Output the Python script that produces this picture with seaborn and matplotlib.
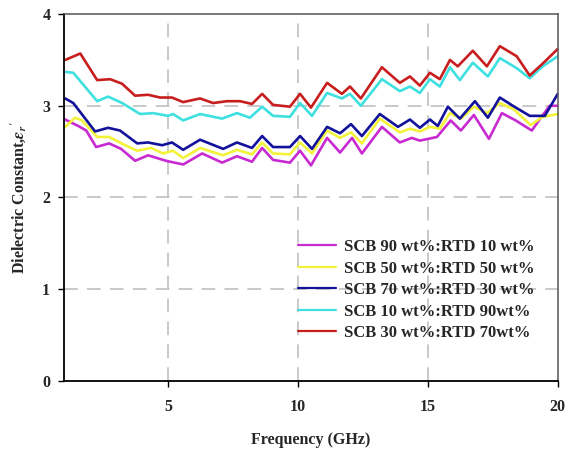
import numpy as np
import pandas as pd
import matplotlib
matplotlib.use("Agg")
import matplotlib.pyplot as plt
import seaborn as sns

# ---- data ----
labels = ["SCB 90 wt%:RTD 10 wt%", "SCB 50 wt%:RTD 50 wt%", "SCB 70 wt%:RTD 30 wt%",
          "SCB 10 wt%:RTD 90wt%", "SCB 30 wt%:RTD 70wt%"]
colors = ["#C82AD2", "#F2F23A", "#12129A", "#3EE0E0", "#C81E1E"]

x_mag = [1.04, 1.54, 1.85, 2.23, 2.73, 3.19, 3.73, 4.23, 4.92, 5.58, 6.31, 7.08, 7.65, 8.23, 8.62,
         9.04, 9.69, 10.08, 10.5, 11.12, 11.62, 12.08, 12.46, 13.23, 13.92, 14.38, 14.69, 15.35,
         15.88, 16.27, 16.77, 17.35, 17.85, 18.38, 19.0, 19.35, 19.69, 20.0]
y_mag = [2.85, 2.78, 2.73, 2.55, 2.59, 2.53, 2.40, 2.46, 2.40, 2.36, 2.48, 2.38, 2.45, 2.39, 2.54,
         2.41, 2.38, 2.51, 2.35, 2.65, 2.49, 2.65, 2.48, 2.77, 2.60, 2.65, 2.62, 2.66,
         2.84, 2.73, 2.90, 2.64, 2.92, 2.84, 2.73, 2.87, 3.00, 3.00]

x_yel = [1.04, 1.42, 1.69, 2.27, 2.73, 3.35, 3.81, 4.35, 4.81, 5.19, 5.58, 6.23, 7.12, 7.65, 8.23,
         8.62, 9.04, 9.69, 10.08, 10.54, 11.12, 11.62, 12.04, 12.46, 13.15, 13.92, 14.31, 14.69,
         15.08, 15.46, 15.85, 16.27, 16.77, 17.27, 17.77, 18.31, 18.96, 19.42, 20.0]
y_yel = [2.77, 2.87, 2.84, 2.66, 2.66, 2.57, 2.51, 2.54, 2.48, 2.51, 2.43, 2.54, 2.46, 2.52, 2.47,
         2.60, 2.48, 2.47, 2.60, 2.48, 2.73, 2.65, 2.71, 2.59, 2.86, 2.71, 2.75, 2.72,
         2.77, 2.75, 2.92, 2.86, 2.99, 2.92, 3.03, 2.96, 2.79, 2.88, 2.91]

x_blu = [1.04, 1.35, 2.19, 2.69, 3.15, 3.81, 4.23, 4.77, 5.15, 5.58, 6.23, 7.12, 7.65, 8.23, 8.62,
         9.04, 9.69, 10.08, 10.54, 11.12, 11.62, 12.04, 12.46, 13.15, 13.85, 14.31, 14.69, 15.08,
         15.38, 15.77, 16.23, 16.81, 17.31, 17.77, 18.27, 18.92, 19.5, 20.0]
y_blu = [3.08, 3.03, 2.72, 2.76, 2.73, 2.59, 2.60, 2.57, 2.60, 2.52, 2.63, 2.53, 2.60, 2.54, 2.67,
         2.55, 2.55, 2.67, 2.53, 2.77, 2.70, 2.80, 2.67, 2.91, 2.77, 2.85, 2.76, 2.85,
         2.78, 2.99, 2.86, 3.05, 2.87, 3.09, 3.00, 2.89, 2.89, 3.13]

x_cyn = [1.04, 1.35, 2.27, 2.69, 3.23, 3.92, 4.42, 5.0, 5.19, 5.58, 6.23, 7.08, 7.65, 8.15, 8.62,
         9.04, 9.69, 10.08, 10.54, 11.12, 11.69, 12.0, 12.42, 13.23, 13.92, 14.31, 14.69, 15.08,
         15.46, 15.85, 16.23, 16.73, 17.31, 17.77, 18.42, 18.92, 19.42, 20.0]
y_cyn = [3.37, 3.36, 3.05, 3.10, 3.03, 2.91, 2.92, 2.89, 2.91, 2.84, 2.91, 2.86, 2.92, 2.87, 2.99,
         2.89, 2.88, 3.03, 2.89, 3.14, 3.08, 3.13, 3.00, 3.29, 3.16, 3.21, 3.14, 3.29,
         3.21, 3.42, 3.28, 3.47, 3.32, 3.52, 3.41, 3.30, 3.43, 3.54]

x_red = [1.04, 1.62, 2.27, 2.77, 3.23, 3.73, 4.23, 4.69, 5.15, 5.58, 6.23, 6.73, 7.27, 7.77, 8.23,
         8.62, 9.04, 9.69, 10.08, 10.5, 11.12, 11.69, 12.0, 12.42, 13.23, 13.92, 14.31, 14.69,
         15.08, 15.46, 15.85, 16.15, 16.73, 17.27, 17.77, 18.42, 18.92, 19.42, 20.0]
y_red = [3.50, 3.57, 3.28, 3.29, 3.24, 3.11, 3.12, 3.09, 3.09, 3.04, 3.08, 3.03, 3.05, 3.05, 3.02,
         3.13, 3.01, 2.99, 3.13, 2.98, 3.25, 3.13, 3.21, 3.08, 3.42, 3.25, 3.32, 3.22,
         3.36, 3.29, 3.50, 3.43, 3.60, 3.43, 3.65, 3.54, 3.33, 3.46, 3.62]

xs = [x_mag, x_yel, x_blu, x_cyn, x_red]
ys = [y_mag, y_yel, y_blu, y_cyn, y_red]

frames = []
for lab, xv, yv in zip(labels, xs, ys):
    frames.append(pd.DataFrame({"Frequency": xv, "Eps": yv, "Sample": lab}))
df = pd.concat(frames, ignore_index=True)

# ---- style ----
sns.set_style("white")
plt.rcParams["font.family"] = ["Liberation Serif", "DejaVu Serif"]
plt.rcParams["font.weight"] = "bold"
plt.rcParams["mathtext.fontset"] = "stix"

fig = plt.figure(figsize=(5.68, 4.54), dpi=100)
ax = fig.add_axes([0.113, 0.161, 0.869, 0.808])

sns.lineplot(data=df, x="Frequency", y="Eps", hue="Sample", hue_order=labels,
             palette=dict(zip(labels, colors)), linewidth=1.9, ax=ax,
             sort=False, estimator=None)

ax.set_xlim(1, 20)
ax.set_ylim(0, 4)
ax.set_xticks([5, 10, 15, 20])
ax.set_yticks([0, 1, 2, 3, 4])
for v in [5, 10, 15]:
    ax.axvline(v, color="#BBBBBB", lw=1.1, ls=(0, (9, 6)), zorder=0)
for v in [1, 2, 3]:
    ax.axhline(v, color="#BBBBBB", lw=1.1, ls=(0, (9, 6)), zorder=0)

ax.tick_params(axis="both", direction="out", length=4, width=1, labelsize=11.5,
               color="black", pad=6, bottom=True, left=True)
for t in ax.get_xticklabels() + ax.get_yticklabels():
    t.set_fontweight("bold")
ax.tick_params(axis="x", pad=9)

for s in ["left", "bottom"]:
    ax.spines[s].set_color("black")
    ax.spines[s].set_linewidth(1.3)
for s in ["top", "right"]:
    ax.spines[s].set_color("#555555")
    ax.spines[s].set_linewidth(1.1)

ax.set_xlabel("Frequency (GHz)", fontsize=11.5, fontweight="bold", labelpad=12)
ax.set_ylabel(r"Dielectric Constant,$\varepsilon_r$$'$", fontsize=11.5, fontweight="bold", labelpad=10)

leg = ax.legend(loc="upper left", bbox_to_anchor=(0.46, 0.405), frameon=False,
                fontsize=12, handlelength=2.3, handletextpad=0.45, labelspacing=0.33,
                borderaxespad=0)
for t in leg.get_texts():
    t.set_fontweight("bold")
for h in leg.get_lines():
    h.set_linewidth(1.6)

fig.savefig("out.png", dpi=100)
